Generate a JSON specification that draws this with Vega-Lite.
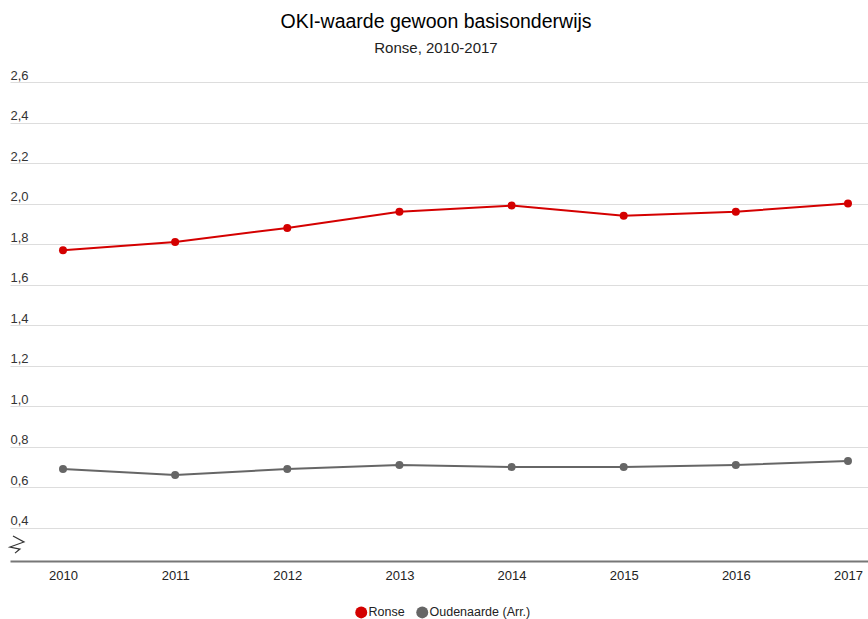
{
  "$schema": "https://vega.github.io/schema/vega-lite/v6.json",
  "width": 858,
  "height": 479,
  "autosize": {"type": "none"},
  "padding": {"left": 10, "top": 82, "right": 0, "bottom": 58},
  "title": {
    "text": "OKI-waarde gewoon basisonderwijs",
    "subtitle": "Ronse, 2010-2017",
    "font": "Liberation Sans",
    "fontSize": 19.5,
    "fontWeight": "normal",
    "color": "#000000",
    "subtitleFont": "Liberation Sans",
    "subtitleFontSize": 15,
    "subtitleColor": "#222222",
    "subtitlePadding": 9,
    "anchor": "middle",
    "dx": -3,
    "offset": 12
  },
  "config": {
    "view": {"stroke": null},
    "font": "Liberation Sans"
  },
  "datasets": {
    "series": [
      {"year": 2010, "value": 1.77, "series": "Ronse"},
      {"year": 2011, "value": 1.81, "series": "Ronse"},
      {"year": 2012, "value": 1.88, "series": "Ronse"},
      {"year": 2013, "value": 1.96, "series": "Ronse"},
      {"year": 2014, "value": 1.99, "series": "Ronse"},
      {"year": 2015, "value": 1.94, "series": "Ronse"},
      {"year": 2016, "value": 1.96, "series": "Ronse"},
      {"year": 2017, "value": 2.0, "series": "Ronse"},
      {"year": 2010, "value": 0.69, "series": "Oudenaarde (Arr.)"},
      {"year": 2011, "value": 0.66, "series": "Oudenaarde (Arr.)"},
      {"year": 2012, "value": 0.69, "series": "Oudenaarde (Arr.)"},
      {"year": 2013, "value": 0.71, "series": "Oudenaarde (Arr.)"},
      {"year": 2014, "value": 0.70, "series": "Oudenaarde (Arr.)"},
      {"year": 2015, "value": 0.70, "series": "Oudenaarde (Arr.)"},
      {"year": 2016, "value": 0.71, "series": "Oudenaarde (Arr.)"},
      {"year": 2017, "value": 0.73, "series": "Oudenaarde (Arr.)"}
    ],
    "brk": [
      {"i": 1, "year": 2009.554, "value": 0.359},
      {"i": 2, "year": 2009.652, "value": 0.330},
      {"i": 3, "year": 2009.527, "value": 0.305},
      {"i": 4, "year": 2009.616, "value": 0.295},
      {"i": 5, "year": 2009.572, "value": 0.275}
    ]
  },
  "layer": [
    {
      "data": {"name": "brk"},
      "mark": {"type": "line", "color": "#333333", "strokeWidth": 1.2, "clip": false},
      "encoding": {
        "x": {"field": "year", "type": "quantitative"},
        "y": {"field": "value", "type": "quantitative"},
        "order": {"field": "i", "type": "quantitative"}
      }
    },
    {
      "data": {"name": "series"},
      "mark": {"type": "line", "strokeWidth": 2, "point": {"filled": true, "size": 64}},
      "encoding": {
        "x": {
          "field": "year",
          "type": "quantitative",
          "scale": {"domain": [2009.5274, 2017.1785], "nice": false, "zero": false},
          "axis": {
            "title": null,
            "values": [2010, 2011, 2012, 2013, 2014, 2015, 2016, 2017],
            "format": "d",
            "grid": false,
            "ticks": false,
            "labelPadding": 8,
            "labelFontSize": 13,
            "labelColor": "#222222",
            "labelFlush": false,
            "domainColor": "#777777",
            "domainWidth": 2
          }
        },
        "y": {
          "field": "value",
          "type": "quantitative",
          "scale": {"domain": [0.236, 2.6], "nice": false, "zero": false},
          "axis": {
            "title": null,
            "values": [0.4, 0.6, 0.8, 1.0, 1.2, 1.4, 1.6, 1.8, 2.0, 2.2, 2.4, 2.6],
            "grid": true,
            "gridColor": "#dddddd",
            "gridWidth": 1,
            "domain": false,
            "ticks": false,
            "labelAlign": "left",
            "labelBaseline": "bottom",
            "labelPadding": 0,
            "labelDy": -3,
            "labelDx": 1,
            "labelFontSize": 13,
            "labelColor": "#333333",
            "labelExpr": "replace(format(datum.value, '.1f'), '.', ',')"
          }
        },
        "color": {
          "field": "series",
          "type": "nominal",
          "scale": {"domain": ["Ronse", "Oudenaarde (Arr.)"], "range": ["#d40000", "#666666"]},
          "legend": {
            "orient": "none",
            "legendX": 345,
            "legendY": 524,
            "direction": "horizontal",
            "title": null,
            "symbolType": "circle",
            "symbolSize": 144,
            "symbolStrokeWidth": 0,
            "labelFontSize": 12.5,
            "labelColor": "#222222",
            "labelOffset": 1,
            "columnPadding": 11
          }
        }
      }
    }
  ]
}
